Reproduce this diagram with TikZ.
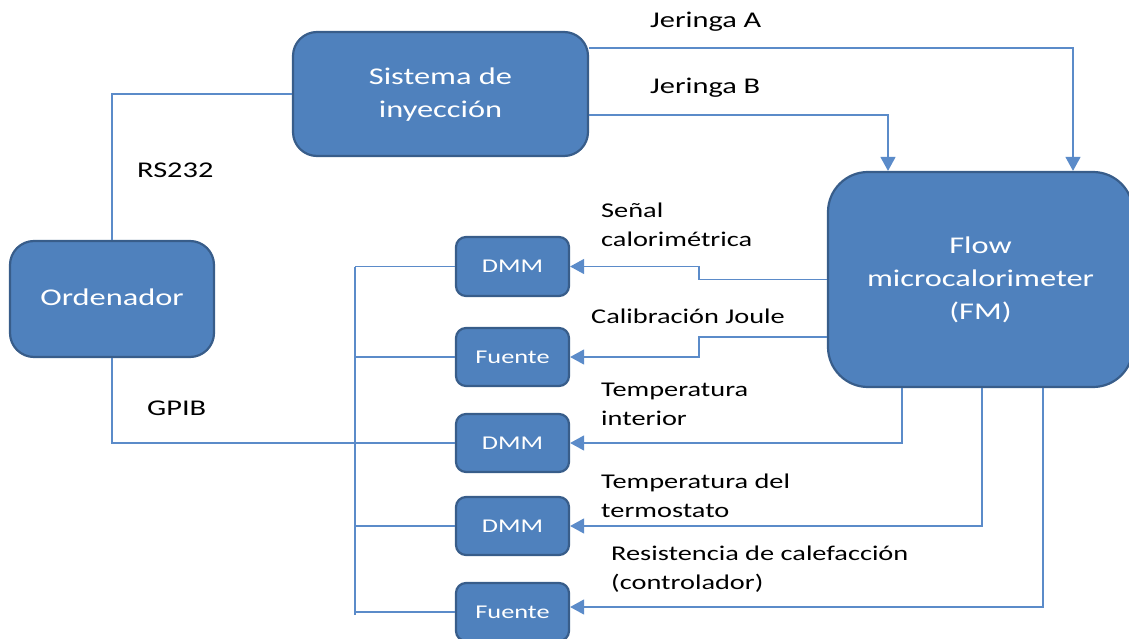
\documentclass[tikz,border=0pt]{standalone}
\usepackage{fontspec}
\setmainfont{Carlito}[FakeStretch=1.35]
\usetikzlibrary{arrows.meta,calc}
\definecolor{boxfill}{HTML}{4F81BD}
\definecolor{boxline}{HTML}{385D8A}
\definecolor{wire}{HTML}{5B8BC9}
\tikzset{
  blk/.style={draw=boxline,line width=2.2pt,fill=boxfill,text=white,rounded corners=#1,align=center,inner sep=0pt},
  blk/.default=20pt,
  wirestyle/.style={draw=wire,line width=1.3pt},
  arr/.style={wirestyle,-{Triangle[length=14pt,width=15pt]}},
  lbl/.style={text=black,font=\fontsize{21}{28.5}\selectfont,align=left,inner sep=0pt},
  biglbl/.style={lbl,font=\fontsize{22.5}{28.5}\selectfont},
  bigtxt/.style={font=\fontsize{24}{33}\selectfont,text depth=3pt},
  smalltxt/.style={font=\fontsize{19.5}{24}\selectfont}
}
\begin{document}
\begin{tikzpicture}[x=1pt,y=-1pt]
\useasboundingbox (0,0) rectangle (1129,639);
% blocks
\node[blk=24pt,minimum width=295pt,minimum height=124pt,bigtxt] (sis) at (440.5,94) {Sistema de\\inyección};
\node[blk=24pt,minimum width=204pt,minimum height=116pt,bigtxt] (ord) at (112,299) {Ordenador};
\node[blk=40pt,minimum width=305pt,minimum height=215pt,bigtxt] (fm) at (980.5,279.5) {Flow\\microcalorimeter\\(FM)};
\node[blk=10pt,minimum width=113pt,minimum height=59pt,smalltxt] (d1) at (512.5,266.5) {DMM};
\node[blk=10pt,minimum width=113pt,minimum height=58pt,smalltxt] (f1) at (512.5,357) {Fuente};
\node[blk=10pt,minimum width=113pt,minimum height=58pt,smalltxt] (d2) at (512.5,443) {DMM};
\node[blk=10pt,minimum width=113pt,minimum height=58pt,smalltxt] (d3) at (512.5,526) {DMM};
\node[blk=10pt,minimum width=113pt,minimum height=58pt,smalltxt] (f2) at (512.5,612) {Fuente};
% helper coordinates
\coordinate (yA) at (0,48);
\coordinate (yB) at (0,115);
\coordinate (xA) at (1073,0);
\coordinate (xB) at (888,0);
\coordinate (kA) at (699,266.5);
\coordinate (kB) at (699,357);
\coordinate (yC) at (0,337);
\coordinate (x1) at (902,0);
\coordinate (x2) at (982,0);
\coordinate (x3) at (1043,0);
\coordinate (y5) at (0,607);
\coordinate (busT) at (355,266.5);
\coordinate (busB) at (355,615);
% computer links
\draw[wirestyle] (ord.north) |- (sis.west);
\draw[wirestyle] (ord.south) |- (d2.west);
\draw[wirestyle] (busT) -- (busB);
\draw[wirestyle] (d1.west) -- (busT);
\draw[wirestyle] (f1.west) -- (f1.west -| busT);
\draw[wirestyle] (d3.west) -- (d3.west -| busT);
\draw[wirestyle] (f2.west) -- (f2.west -| busT);
% syringes
\draw[arr] (sis.east |- yA) -| (fm.north -| xA);
\draw[arr] (sis.east |- yB) -| (fm.north -| xB);
% signals to instruments
\draw[arr] (fm.west) -| (kA) -- (d1.east);
\draw[arr] (fm.west |- yC) -| (kB) -- (f1.east);
\draw[arr] (fm.south -| x1) |- (d2.east);
\draw[arr] (fm.south -| x2) |- (d3.east);
\draw[arr] (fm.south -| x3) |- (f2.east |- y5);
% labels
\node[biglbl,anchor=west] (la) at (650,22) {Jeringa A};
\node[biglbl,anchor=west] (lb) at (650,88) {Jeringa B};
\node[biglbl,anchor=west] (lrs) at (137,170) {RS232};
\node[biglbl,anchor=west] (lgp) at (147,408) {GPIB};
\node[lbl,anchor=north west] (ls) at (601,203) {Señal\\calorimétrica};
\node[lbl,anchor=west] (lc) at (591,316) {Calibración Joule};
\node[lbl,anchor=north west] (lt) at (601,383) {Temperatura\\interior};
\node[lbl,anchor=north west] (ltt) at (601,474) {Temperatura del\\termostato};
\node[lbl,anchor=north west] (lr) at (611,546) {Resistencia de calefacción\\(controlador)};
\end{tikzpicture}
\end{document}
